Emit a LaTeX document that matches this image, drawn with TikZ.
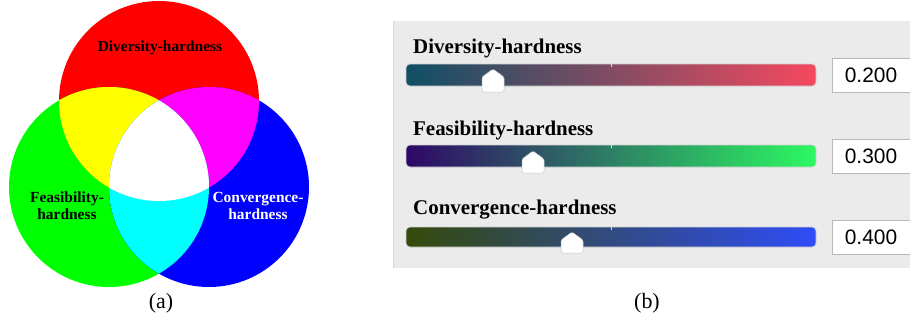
\documentclass[tikz,border=0pt]{standalone}
\usepackage{fontspec}
\setmainfont{Liberation Serif}
\newfontfamily\uisans{Liberation Sans}
\usepackage{tikz}
\usetikzlibrary{positioning}

\definecolor{vennred}{RGB}{255,0,0}
\definecolor{venngreen}{RGB}{0,255,0}
\definecolor{vennblue}{RGB}{0,0,255}
\definecolor{vennyellow}{RGB}{255,255,0}
\definecolor{vennmagenta}{RGB}{255,0,255}
\definecolor{venncyan}{RGB}{0,255,255}
\definecolor{panelgray}{HTML}{EBEBEB}
\definecolor{divlow}{HTML}{0F4F66}
\definecolor{divhigh}{HTML}{F5495F}
\definecolor{feaslow}{HTML}{2E0867}
\definecolor{feashigh}{HTML}{2DF862}
\definecolor{convlow}{HTML}{344A0A}
\definecolor{convhigh}{HTML}{2F4CF8}

\begin{document}
\begin{tikzpicture}[
	x=1bp, y=-1bp,
	venntext/.style={font=\bfseries\fontsize{15.5}{17}\selectfont, align=center, inner sep=0pt},
	slidertext/.style={font=\bfseries\fontsize{21}{23}\selectfont, anchor=base west, inner sep=0pt},
	bar/.style={rounded corners=4bp, draw=gray!35, line width=0.6bp},
	knob/.style={fill=white, draw=gray!45, line width=0.5bp, rounded corners=1.5bp},
	valbox/.style={draw=gray!55, fill=white, line width=0.8bp, minimum width=78bp, minimum height=34bp, inner sep=0pt, font=\uisans\fontsize{21}{23}\selectfont},
	caption/.style={font=\fontsize{22}{24}\selectfont, inner sep=0pt}
]
\useasboundingbox (0,0) rectangle (910,324);

% (a) colour circles
\fill[vennred] (159,101) circle (100);
\fill[venngreen] (109,187) circle (100);
\fill[vennblue] (209,187) circle (100);
\begin{scope}
	\clip (159,101) circle (100);
	\fill[vennyellow] (109,187) circle (100);
	\fill[vennmagenta] (209,187) circle (100);
\end{scope}
\begin{scope}
	\clip (109,187) circle (100);
	\fill[venncyan] (209,187) circle (100);
\end{scope}
\begin{scope}
	\clip (159,101) circle (100);
	\clip (109,187) circle (100);
	\fill[white] (209,187) circle (100);
\end{scope}

\node[venntext] (div) at (160,48) {Diversity-hardness};
\node[venntext] (feas) at (67,206) {Feasibility-\\hardness};
\node[venntext, text=white] (conv) at (258,206) {Convergence-\\hardness};
\node[caption] (capa) at (161,303) {(a)};

% (b) slider panel
\fill[panelgray] (393,21) rectangle (910,268);
\draw[gray!30, line width=0.8bp] (393,21) -- (393,268);

\node[slidertext] (divlabel) at (413,53) {Diversity-hardness};
\shade[bar, left color=divlow, right color=divhigh] (406,64) rectangle (816,86);
\draw[white!75!gray, line width=1bp] (611,64) -- (611,67);
\draw[knob] (493,69) -- ++(11,8) -- ++(0,15) -- ++(-22,0) -- ++(0,-15) -- cycle;
\node[valbox] (divval) at (871,75) {0.200};

\node[slidertext] (feaslabel) at (413,135) {Feasibility-hardness};
\shade[bar, left color=feaslow, right color=feashigh] (406,145) rectangle (816,167);
\draw[white!75!gray, line width=1bp] (611,145) -- (611,148);
\draw[knob] (533,151) -- ++(11,8) -- ++(0,14) -- ++(-22,0) -- ++(0,-14) -- cycle;
\node[valbox] (feasval) at (871,156.5) {0.300};

\node[slidertext] (convlabel) at (413,214) {Convergence-hardness};
\shade[bar, left color=convlow, right color=convhigh] (406,227) rectangle (816,247);
\draw[white!75!gray, line width=1bp] (611,227) -- (611,230);
\draw[knob] (572,232) -- ++(11,8) -- ++(0,13) -- ++(-22,0) -- ++(0,-13) -- cycle;
\node[valbox] (convval) at (871,237.5) {0.400};

\node[caption] (capb) at (647,303) {(b)};
\end{tikzpicture}
\end{document}
